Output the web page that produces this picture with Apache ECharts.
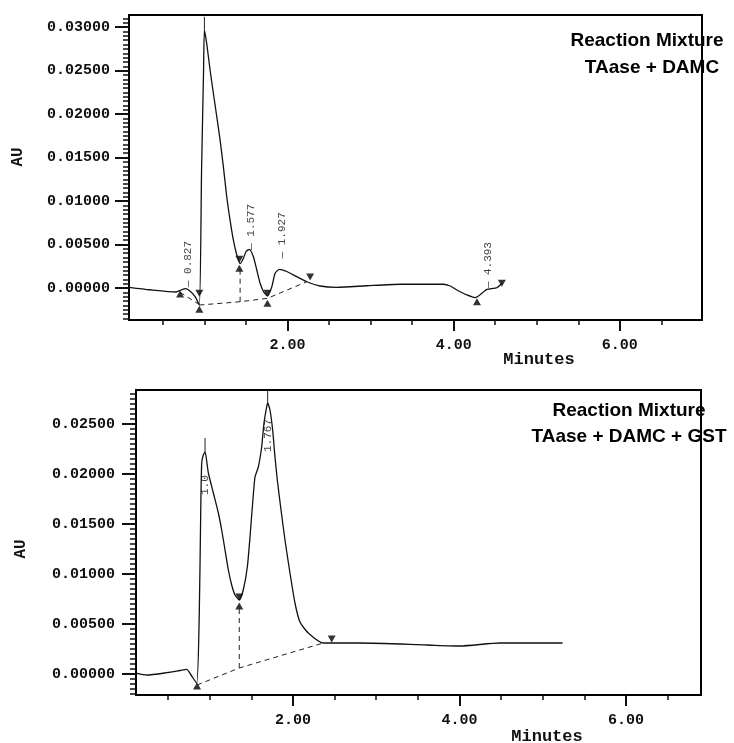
<!DOCTYPE html>
<html>
<head>
<meta charset="utf-8">
<script src="https://cdn.jsdelivr.net/npm/echarts@6/dist/echarts.min.js"></script>
<style>
  html, body { margin: 0; padding: 0; background: #fff; }
  #chart { width: 734px; height: 743px; }
</style>
</head>
<body>
<div id="chart"></div>
<script>
// top trace: TAase + DAMC
const topTime = [0.09, 0.34, 0.657, 0.717, 0.77, 0.82, 0.886, 0.937, 0.964, 0.988, 0.998, 1.026, 1.066, 1.106, 1.147, 1.187,
  1.227, 1.267, 1.307, 1.347, 1.388, 1.428, 1.467, 1.5, 1.54, 1.588, 1.628, 1.669, 1.709, 1.757, 1.81, 1.849, 1.901,
  1.99, 2.11, 2.231, 2.392, 2.593, 2.954, 3.355, 3.873, 3.958, 4.039, 4.159, 4.259, 4.34, 4.4, 4.52, 4.58];
const topAbs = [0.00008, -0.0002, -0.00046, -0.00023, -0.00008, -0.00031, -0.001, -0.00196, 0.0136, 0.0251, 0.0297, 0.0281,
  0.0251, 0.0224, 0.0197, 0.017, 0.0139, 0.0105, 0.0078, 0.0055, 0.0038, 0.0028, 0.0034, 0.0042, 0.00445, 0.0036, 0.0021,
  0.00054, -0.0004, -0.0009, 0.00015, 0.0017, 0.00215, 0.0019, 0.0013, 0.00072, 0.00023, 0.00008, 0.00026, 0.00043,
  0.00043, 0.00023, -0.00023, -0.0008, -0.0011, -0.0006, -0.00015, 0.00003, 0.00054];
const topBaseTime = [0.937, 1.428, 1.757, 2.231];
const topBaseAbs = [-0.00196, -0.00158, -0.00119, 0.00072];
const topBase0Time = [0.705, 0.937];
const topBase0Abs = [-0.0005, -0.0019];
const topDropTime = [1.428, 1.428];
const topDropAbs = [-0.00158, 0.0025];
const topApexTime = [0.998, 0.998];
const topApexAbs = [0.0297, 0.0312];
const topUpTime = [0.705, 0.937, 1.419, 1.757, 4.28];
const topUpAbs = [-0.0007, -0.00245, 0.00227, -0.00176, -0.00158];
const topDownTime = [0.937, 1.419, 1.757, 2.271, 4.58];
const topDownAbs = [-0.0006, 0.0033, -0.0006, 0.00127, 0.00054];
const topRtText = ['0.827', '1.577', '1.927', '4.393'];
const topRtTime = [0.80, 1.56, 1.928, 4.416];
const topRtAbs = [0.0001, 0.00437, 0.0034, -0.00003];

// bottom trace: TAase + DAMC + GST
const botTime = [0.124, 0.244, 0.484, 0.643, 0.724, 0.776, 0.844, 0.875, 0.892, 0.904, 0.923, 0.944, 0.984, 1.044, 1.104,
  1.144, 1.184, 1.224, 1.264, 1.304, 1.355, 1.403, 1.452, 1.484, 1.516, 1.544, 1.584, 1.624, 1.652, 1.684, 1.696, 1.724,
  1.756, 1.784, 1.812, 1.852, 1.904, 1.964, 2.024, 2.084, 2.184, 2.364, 2.804, 3.605, 4.005, 4.485, 5.237];
const botAbs = [0.00007, -0.0001, 0.00013, 0.00035, 0.00047, -0.0001, -0.00093, 0.0061, 0.0161, 0.0211, 0.0219, 0.0222,
  0.0201, 0.0181, 0.0161, 0.0144, 0.0124, 0.0104, 0.0089, 0.0079, 0.0074, 0.0084, 0.0107, 0.0137, 0.0171, 0.0197, 0.0207,
  0.0227, 0.0251, 0.0267, 0.0271, 0.0264, 0.0244, 0.0217, 0.0194, 0.0167, 0.0134, 0.0101, 0.0071, 0.0052, 0.0041, 0.0031,
  0.0031, 0.0029, 0.0028, 0.0031, 0.0031];
const botBaseTime = [0.848, 1.355, 2.364];
const botBaseAbs = [-0.0011, 0.0006, 0.0031];
const botDropTime = [1.355, 1.355];
const botDropAbs = [0.0006, 0.0066];
const botApex1Time = [0.944, 0.944];
const botApex1Abs = [0.0222, 0.0236];
const botApex2Time = [1.696, 1.696];
const botApex2Abs = [0.0271, 0.0283];
const botUpTime = [0.848, 1.355];
const botUpAbs = [-0.0012, 0.0068];
const botDownTime = [1.355, 2.465];
const botDownAbs = [0.0077, 0.0035];
const botRtText = ['1.0', '1.767'];
const botRtTime = [0.944, 1.70];
const botRtAbs = [0.0179, 0.0222];

// axis ticks
const xMajor = [2, 4, 6];
const xMinor = [0.5, 1, 1.5, 2, 2.5, 3, 3.5, 4, 4.5, 5, 5.5, 6, 6.5];
const topYMajor = [0, 0.005, 0.01, 0.015, 0.02, 0.025, 0.03];
const botYMajor = [0, 0.005, 0.01, 0.015, 0.02, 0.025];
const topYMinor = [];
for (let i = -7; i <= 62; i++) topYMinor.push(Math.round(i * 5) / 10000);
const botYMinor = [];
for (let i = -4; i <= 56; i++) botYMinor.push(Math.round(i * 5) / 10000);

const zip = (a, b) => a.map((v, i) => [v, b[i]]);
const monoBold = { fontFamily: 'Liberation Mono', fontWeight: 'bold', fontSize: 15, color: '#111' };

function mainX(grid, min, max) {
  return {
    type: 'value', gridIndex: grid, min: min, max: max, position: 'bottom',
    axisLine: { show: false, onZero: false }, splitLine: { show: false },
    axisTick: { show: true, length: 11, customValues: xMajor, lineStyle: { color: '#111', width: 2 } },
    axisLabel: Object.assign({ customValues: xMajor, margin: 18, formatter: v => v.toFixed(2) }, monoBold)
  };
}
function minorX(grid, min, max) {
  return {
    type: 'value', gridIndex: grid, min: min, max: max, position: 'bottom',
    axisLine: { show: false, onZero: false }, splitLine: { show: false }, axisLabel: { show: false },
    axisTick: { show: true, length: 5, customValues: xMinor, lineStyle: { color: '#111', width: 1.5 } }
  };
}
function mainY(grid, min, max, ticks, margin) {
  return {
    type: 'value', gridIndex: grid, min: min, max: max, position: 'left',
    axisLine: { show: false, onZero: false }, splitLine: { show: false },
    axisTick: { show: true, length: 14, customValues: ticks, lineStyle: { color: '#111', width: 2 } },
    axisLabel: Object.assign({ customValues: ticks, margin: margin, formatter: v => v.toFixed(5) }, monoBold)
  };
}
function minorY(grid, min, max, ticks) {
  return {
    type: 'value', gridIndex: grid, min: min, max: max, position: 'left',
    axisLine: { show: false, onZero: false }, splitLine: { show: false }, axisLabel: { show: false },
    axisTick: { show: true, length: 6, customValues: ticks, lineStyle: { color: '#111', width: 1.5 } }
  };
}

function trace(ax, data) {
  return { type: 'line', xAxisIndex: ax, yAxisIndex: ax, data: data, showSymbol: false, smooth: 0.2,
    lineStyle: { color: '#111', width: 1.3 }, silent: true };
}
function thin(ax, data, dash) {
  return { type: 'line', xAxisIndex: ax, yAxisIndex: ax, data: data, showSymbol: false,
    lineStyle: { color: '#222', width: 1, type: dash ? [5, 4] : 'solid' }, silent: true };
}
function marks(ax, data, down) {
  return { type: 'scatter', xAxisIndex: ax, yAxisIndex: ax, data: data, symbol: 'triangle',
    symbolSize: [8, 7], symbolRotate: down ? 180 : 0, itemStyle: { color: '#000' }, silent: true };
}
function rtLabels(ax, times, abs, texts, dash) {
  return {
    type: 'scatter', xAxisIndex: ax, yAxisIndex: ax, symbolSize: 0.1, itemStyle: { color: 'rgba(0,0,0,0)' },
    data: times.map((t, i) => ({ value: [t, abs[i]], name: texts[i] })),
    label: {
      show: true, position: 'inside', rotate: 90, align: 'left', verticalAlign: 'middle',
      fontFamily: 'Liberation Mono', fontSize: 11, color: '#111',
      formatter: p => (dash ? '\u2014 ' : '') + p.name
    },
    silent: true
  };
}

const chart = echarts.init(document.getElementById('chart'));
chart.setOption({
  animation: false,
  backgroundColor: '#fff',
  grid: [
    { left: 129, top: 15, width: 573, height: 305, show: true, borderColor: '#000', borderWidth: 2, backgroundColor: 'transparent' },
    { left: 136, top: 390, width: 565, height: 305, show: true, borderColor: '#000', borderWidth: 2, backgroundColor: 'transparent' }
  ],
  xAxis: [mainX(0, 0.09, 6.99), minorX(0, 0.09, 6.99), mainX(1, 0.115, 6.9), minorX(1, 0.115, 6.9)],
  yAxis: [
    mainY(0, -0.00368, 0.0314, topYMajor, 19), minorY(0, -0.00368, 0.0314, topYMinor),
    mainY(1, -0.0021, 0.0284, botYMajor, 21), minorY(1, -0.0021, 0.0284, botYMinor)
  ],
  series: [
    trace(0, zip(topTime, topAbs)),
    thin(0, zip(topBaseTime, topBaseAbs), true),
    thin(0, zip(topBase0Time, topBase0Abs), true),
    thin(0, zip(topDropTime, topDropAbs), true),
    thin(0, zip(topApexTime, topApexAbs), false),
    marks(0, zip(topUpTime, topUpAbs), false),
    marks(0, zip(topDownTime, topDownAbs), true),
    rtLabels(0, topRtTime, topRtAbs, topRtText, true),
    trace(2, zip(botTime, botAbs)),
    thin(2, zip(botBaseTime, botBaseAbs), true),
    thin(2, zip(botDropTime, botDropAbs), true),
    thin(2, zip(botApex1Time, botApex1Abs), false),
    thin(2, zip(botApex2Time, botApex2Abs), false),
    marks(2, zip(botUpTime, botUpAbs), false),
    marks(2, zip(botDownTime, botDownAbs), true),
    rtLabels(2, botRtTime, botRtAbs, botRtText, false)
  ],
  graphic: [
    { type: 'text', x: 18, y: 157, rotation: Math.PI / 2,
      style: { text: 'AU', font: 'bold 16px "Liberation Mono"', fill: '#111', textAlign: 'center', textVerticalAlign: 'middle' } },
    { type: 'text', x: 21, y: 549, rotation: Math.PI / 2,
      style: { text: 'AU', font: 'bold 16px "Liberation Mono"', fill: '#111', textAlign: 'center', textVerticalAlign: 'middle' } },
    { type: 'text', x: 539, y: 360,
      style: { text: 'Minutes', font: 'bold 17px "Liberation Mono"', fill: '#111', textAlign: 'center', textVerticalAlign: 'middle' } },
    { type: 'text', x: 547, y: 737,
      style: { text: 'Minutes', font: 'bold 17px "Liberation Mono"', fill: '#111', textAlign: 'center', textVerticalAlign: 'middle' } },
    { type: 'text', x: 647, y: 41,
      style: { text: 'Reaction Mixture', font: 'bold 19px "Liberation Sans"', fill: '#000', textAlign: 'center', textVerticalAlign: 'middle' } },
    { type: 'text', x: 652, y: 68,
      style: { text: 'TAase + DAMC', font: 'bold 19px "Liberation Sans"', fill: '#000', textAlign: 'center', textVerticalAlign: 'middle' } },
    { type: 'text', x: 629, y: 411,
      style: { text: 'Reaction Mixture', font: 'bold 19px "Liberation Sans"', fill: '#000', textAlign: 'center', textVerticalAlign: 'middle' } },
    { type: 'text', x: 629, y: 437,
      style: { text: 'TAase + DAMC + GST', font: 'bold 19px "Liberation Sans"', fill: '#000', textAlign: 'center', textVerticalAlign: 'middle' } }
  ]
});
</script>
</body>
</html>
